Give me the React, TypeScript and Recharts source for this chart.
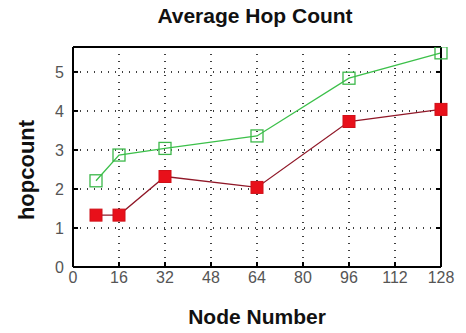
import React from 'react';
import { LineChart, Line, XAxis, YAxis, CartesianGrid, Label } from 'recharts';

const nodes = [8, 16, 32, 64, 96, 128];
const redHops = [1.33, 1.33, 2.32, 2.04, 3.73, 4.04];
const greenHops = [2.21, 2.87, 3.04, 3.36, 4.84, 5.49];
const xTicks = [0, 16, 32, 48, 64, 80, 96, 112, 128];
const innerXTicks = [16, 32, 48, 64, 80, 96, 112];
const yTicks = [0, 1, 2, 3, 4, 5];
const innerYTicks = [1, 2, 3, 4, 5];

const data = nodes.map((n, i) => ({ node: n, red: redHops[i], green: greenHops[i] }));

const font = '"Liberation Sans", Arial, sans-serif';
const tickStyle = { fontFamily: font, fontSize: 16, fill: '#555' };
const axisLine = { stroke: '#000', strokeWidth: 2 };
const blank = () => '';

const redDot = (p: any) => (
  <rect key={`r${p.index}`} x={p.cx - 6} y={p.cy - 6} width={12} height={12} fill="#e8101a" stroke="#d01018" />
);
const greenDot = (p: any) => (
  <rect key={`g${p.index}`} x={p.cx - 6} y={p.cy - 6} width={12} height={12} fill="none" stroke="#3cb84a" strokeWidth={1.3} />
);

const yLabel = (props: any) => {
  const vb = props.viewBox;
  const cx = vb.x + 26;
  const cy = vb.y + vb.height / 2 + 13;
  return (
    <text
      x={cx}
      y={cy}
      transform={`rotate(-90 ${cx} ${cy})`}
      textAnchor="middle"
      dominantBaseline="central"
      style={{ fontFamily: font, fontSize: 22, fontWeight: 'bold', fill: '#111' }}
    >
      hopcount
    </text>
  );
};

export default function App() {
  return (
    <div style={{ position: 'absolute', left: 0, top: 0, background: '#fff' }}>
      <LineChart width={466} height={333} data={data} margin={{ top: 0, right: 0, bottom: 0, left: 0 }}>
        <CartesianGrid
          xAxisId="b"
          yAxisId="l"
          stroke="#000"
          strokeDasharray="1 6"
          strokeWidth={1.5}
          verticalPoints={undefined}
        />
        <XAxis
          xAxisId="b"
          dataKey="node"
          type="number"
          domain={[0, 128]}
          ticks={xTicks}
          height={66}
          tickSize={-5}
          tickMargin={10}
          tick={tickStyle}
          axisLine={axisLine}
          tickLine={axisLine}
          interval={0}
        >
          <Label
            value="Node Number"
            position="insideBottom"
            offset={9}
            style={{ fontFamily: font, fontSize: 21, fontWeight: 'bold', fill: '#111' }}
          />
        </XAxis>
        <XAxis
          xAxisId="t"
          orientation="top"
          type="number"
          domain={[0, 128]}
          ticks={innerXTicks}
          height={47}
          tickSize={-5}
          tickFormatter={blank}
          axisLine={axisLine}
          tickLine={axisLine}
          interval={0}
        >
          <Label
            value="Average Hop Count"
            position="insideTop"
            offset={8}
            dx={-2}
            style={{ fontFamily: font, fontSize: 21, fontWeight: 'bold', fill: '#111' }}
          />
        </XAxis>
        <YAxis
          yAxisId="l"
          type="number"
          domain={[0, 5.64]}
          ticks={yTicks}
          width={73}
          tickSize={-5}
          tickMargin={14}
          tick={tickStyle}
          axisLine={axisLine}
          tickLine={axisLine}
          interval={0}
          allowDataOverflow
        >
          <Label content={yLabel} />
        </YAxis>
        <YAxis
          yAxisId="r"
          orientation="right"
          type="number"
          domain={[0, 5.64]}
          ticks={innerYTicks}
          width={25}
          tickSize={-5}
          tickFormatter={blank}
          axisLine={axisLine}
          tickLine={axisLine}
          interval={0}
          allowDataOverflow
        />
        <Line
          xAxisId="b"
          yAxisId="l"
          dataKey="green"
          stroke="#3cc04a"
          strokeWidth={1.3}
          dot={greenDot}
          isAnimationActive={false}
        />
        <Line
          xAxisId="b"
          yAxisId="l"
          dataKey="red"
          stroke="#901828"
          strokeWidth={1.3}
          dot={redDot}
          isAnimationActive={false}
        />
      </LineChart>
    </div>
  );
}
